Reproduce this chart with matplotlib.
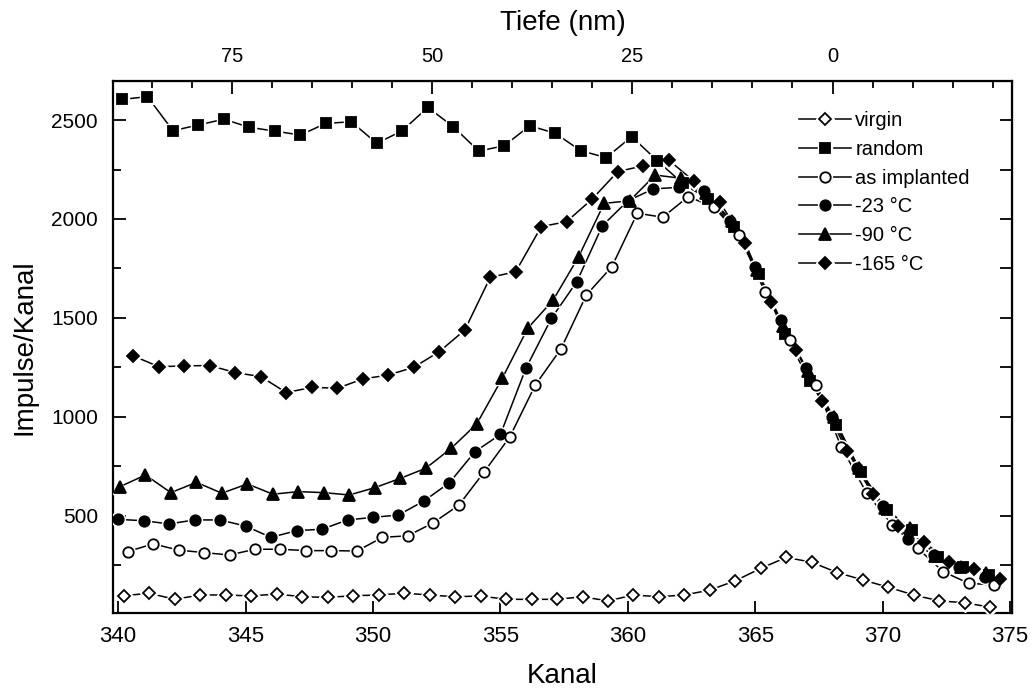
import numpy as np
import matplotlib
matplotlib.use('Agg')
from matplotlib import pyplot as plt
from matplotlib.ticker import MultipleLocator, FixedLocator, NullFormatter

plt.rcParams['font.family'] = ['Liberation Sans', 'DejaVu Sans']

# channel numbers 340..374; each series is recorded with a small channel offset
kanal = np.arange(340, 375)

virgin = [97, 110, 79, 101, 101, 96, 106, 92, 89, 97, 101, 110, 101,
          92, 96, 79, 79, 79, 92, 71, 101, 92, 101, 126, 173,
          236, 291, 266, 214, 177, 140, 101, 71, 62, 39]
random_ = [2604, 2618, 2446, 2475, 2504, 2463, 2444, 2424, 2483, 2491, 2382, 2446, 2564,
           2466, 2343, 2370, 2471, 2433, 2345, 2310, 2416, 2295, 2180, 2100, 1960,
           1720, 1420, 1180, 960, 720, 530, 430, 294, 244, 200]
as_impl = [320, 359, 328, 315, 303, 332, 332, 325, 325, 323, 392, 400, 466,
           555, 724, 900, 1162, 1343, 1616, 1759, 2029, 2009, 2113, 2060, 1920,
           1633, 1389, 1162, 850, 615, 455, 337, 219, 160, 152]
t_m23 = [483, 476, 460, 480, 480, 449, 392, 426, 433, 480, 493, 505, 576, 668,
         825, 912, 1246, 1498, 1684, 1966, 2092, 2152, 2160, 2140, 1990,
         1759, 1490, 1246, 1002, 741, 550, 382, 303, 244, 193]
t_m90 = [648, 707, 618, 670, 615, 662, 610, 623, 618, 606, 643, 690, 741, 842,
         965, 1195, 1448, 1591, 1810, 2079, 2092, 2222, 2206, 2130, 1990,
         1740, 1460, 1230, 1000, 740, 540, 440, 300, 244, 214]
t_m165 = [1308, 1254, 1258, 1260, 1224, 1204, 1123, 1150, 1145, 1192, 1212, 1251, 1330,
          1439, 1705, 1734, 1961, 1987, 2101, 2239, 2269, 2298, 2190, 2087, 1880,
          1582, 1338, 1080, 830, 610, 450, 370, 270, 230, 180]

series = [
    ('virgin', virgin, 0.22, 'D', 'white', 6.5),
    ('random', random_, 0.15, 's', 'black', 7),
    ('as implanted', as_impl, 0.37, 'o', 'white', 7.5),
    ('-23 °C', t_m23, 0.0, 'o', 'black', 7.5),
    ('-90 °C', t_m90, 0.07, '^', 'black', 8),
    ('-165 °C', t_m165, 0.6, 'D', 'black', 6.5),
]

# depth scale: 0 nm at channel 368.03, 3.18 nm per channel
ch0 = 368.03
nm_per_ch = 3.1826


def ch2nm(ch):
    return (ch0 - ch) * nm_per_ch


def nm2ch(nm):
    return ch0 - nm / nm_per_ch


fig = plt.figure(figsize=(10.36, 6.94), dpi=100)
ax = fig.add_axes([113.3 / 1036, 1 - 613 / 694, 898.4 / 1036, 532 / 694])

handles = []
for label, vals, off, mk, face, ms in series:
    x = kanal + off
    ln, = ax.plot(x, vals, color='black', lw=1.1, zorder=2)
    # white rim so the connecting line stops short of each symbol
    rim, = ax.plot(x, vals, ls='none', marker=mk, ms=ms + 2.5, mfc='white',
                   mec='white', zorder=3)
    sym, = ax.plot(x, vals, ls='none', marker=mk, ms=ms, mfc=face,
                   mec='black', mew=1.3, zorder=4)
    handles.append((ln, rim, sym))

ax.set_xlim(339.81, 375.06)
ax.set_ylim(10, 2697)

ax.xaxis.set_major_locator(MultipleLocator(5))
ax.yaxis.set_major_locator(FixedLocator([500, 1000, 1500, 2000, 2500]))
ax.yaxis.set_minor_locator(MultipleLocator(250))
ax.tick_params(axis='x', which='major', direction='in', length=9, width=1.3,
               labelsize=16, pad=9)
ax.tick_params(axis='y', which='major', direction='in', length=9.5, width=1.3,
               labelsize=15, pad=11)
ax.tick_params(axis='y', which='minor', direction='in', length=6, width=1.3)
for sp in ax.spines.values():
    sp.set_linewidth(1.6)

right = ax.secondary_yaxis('right')
right.yaxis.set_major_locator(MultipleLocator(250))
right.yaxis.set_major_formatter(NullFormatter())
right.tick_params(direction='in', length=9, width=1.3)

top = ax.secondary_xaxis('top', functions=(ch2nm, nm2ch))
top.xaxis.set_major_locator(FixedLocator([0, 25, 50, 75]))
top.xaxis.set_minor_locator(MultipleLocator(5))
top.tick_params(which='major', direction='in', length=9, width=1.3,
                labelsize=14.5, pad=11)
top.tick_params(which='minor', direction='in', length=5, width=1.3)
top.set_xlabel('Tiefe (nm)', fontsize=20, labelpad=12)

ax.set_xlabel('Kanal', fontsize=20, labelpad=12)
ax.set_ylabel('Impulse/Kanal', fontsize=20, labelpad=10)

ax.legend(handles, [s[0] for s in series], loc='upper left',
          bbox_to_anchor=(0.754, 0.958), frameon=False,
          fontsize=14.5, handlelength=2.6, handletextpad=0.2,
          labelspacing=0.48, borderaxespad=0)

fig.savefig('out.png', dpi=100)
